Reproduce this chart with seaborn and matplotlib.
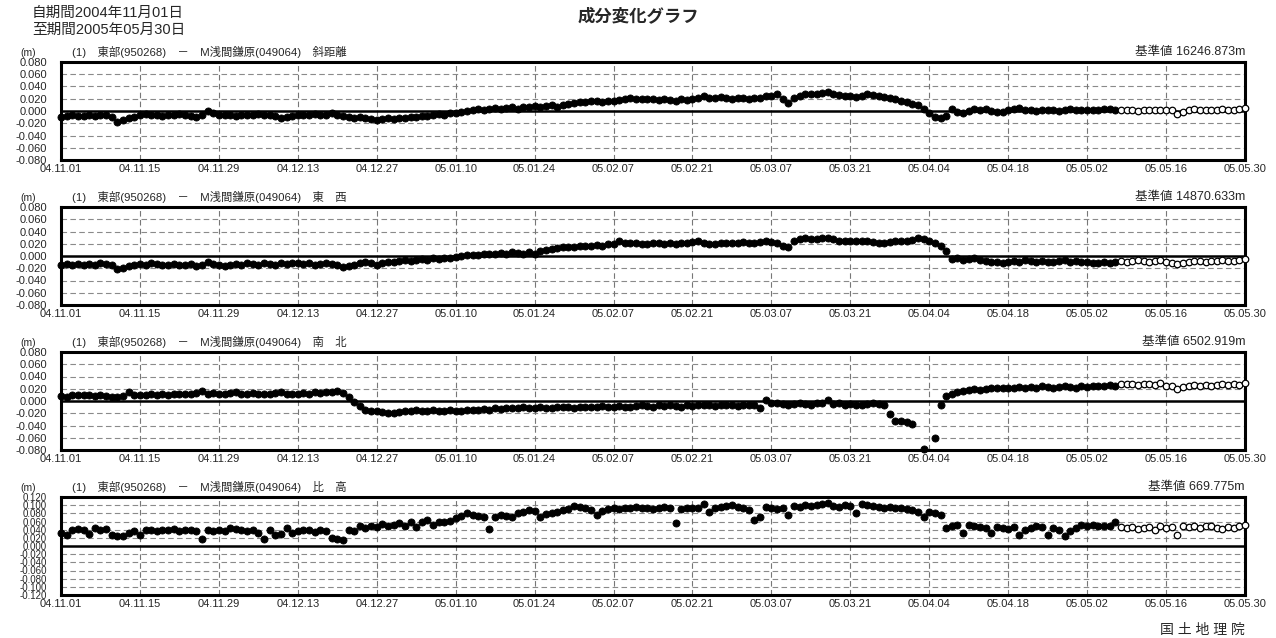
import numpy as np
import pandas as pd
import matplotlib
matplotlib.use('Agg')
import matplotlib.pyplot as plt
import seaborn as sns

sns.set_style('white')
plt.rcParams['font.family'] = ['Liberation Sans', 'Noto Sans CJK JP', 'DejaVu Sans']
plt.rcParams['axes.unicode_minus'] = False

# 期間
start_day = '2004-11-01'
end_day = '2005-05-30'
open_from = '2005-05-08'   # 以降は白丸(速報解)

# 各成分 (mm)
slope_mm = [
    -10, -8, -6, -8, -8, -7, -8, -6, -7, -9, -18, -15, -12, -10,
    -7, -5, -6, -7, -8, -6, -7, -5, -6, -8, -9, -6, 0, -4,
    -6, -7, -7, -8, -6, -7, -6, -5, -7, -6, -8, -12, -10, -8,
    -6, -7, -6, -5, -7, -6, -4, -6, -8, -10, -11, -10, -12, -13,
    -15, -13, -12, -13, -11, -12, -10, -9, -8, -8, -7, -5, -6, -4,
    -3, -2, 0, 2, 3, 2, 4, 5, 4, 5, 6, 4, 7, 6,
    8, 6, 8, 9, 7, 10, 12, 13, 15, 14, 16, 17, 15, 16,
    17, 18, 20, 22, 20, 19, 20, 19, 18, 19, 18, 17, 19, 18,
    20, 21, 24, 22, 21, 23, 22, 20, 21, 21, 20, 21, 22, 24,
    25, 27, 19, 13, 22, 25, 27, 27, 28, 29, 31, 28, 26, 25,
    24, 23, 24, 27, 26, 25, 23, 22, 20, 16, 14, 12, 10, 4,
    -3, -9, -12, -8, 4, -2, -4, 0, 4, 2, 3, 0, -2, -1,
    1, 3, 5, 2, 1, 0, 1, 2, 1, 0, 2, 3, 1, 2,
    1, 2, 1, 3, 4, 1, 1, 2, 1, 0, 2, 1, 2, 1,
    2, 1, -5, -1, 2, 3, 2, 2, 1, 2, 3, 2, 2, 3, 5,
]
ew_mm = [
    -14, -13, -15, -13, -14, -13, -14, -12, -13, -14, -22, -19, -17, -15,
    -13, -14, -12, -13, -15, -14, -13, -15, -14, -13, -16, -14, -10, -13,
    -15, -16, -14, -13, -14, -12, -13, -14, -12, -13, -14, -12, -13, -11,
    -12, -13, -12, -14, -13, -12, -13, -14, -18, -16, -14, -11, -10, -12,
    -15, -12, -10, -9, -8, -7, -8, -6, -5, -6, -4, -5, -3, -4,
    -1, 0, 1, 2, 1, 3, 4, 3, 5, 4, 6, 5, 4, 7,
    3, 8, 10, 11, 13, 14, 15, 14, 16, 17, 16, 18, 17, 19,
    20, 24, 21, 22, 21, 20, 19, 21, 22, 20, 21, 19, 22, 21,
    23, 24, 22, 20, 19, 21, 22, 21, 22, 23, 21, 22, 23, 24,
    23, 22, 16, 15, 24, 27, 29, 28, 27, 29, 30, 27, 25, 24,
    25, 24, 25, 24, 23, 22, 21, 23, 24, 25, 24, 26, 29, 27,
    25, 22, 16, 8, -5, -4, -6, -5, -4, -7, -8, -9, -10, -11,
    -10, -8, -9, -7, -8, -9, -8, -9, -10, -8, -7, -9, -8, -9,
    -10, -11, -12, -10, -11, -9, -8, -9, -8, -7, -8, -9, -8, -7,
    -9, -12, -13, -11, -9, -8, -8, -9, -8, -8, -7, -8, -8, -7, -5,
]
ns_mm = [
    8, 6, 9, 10, 9, 10, 8, 9, 8, 7, 6, 8, 15, 10,
    9, 10, 11, 10, 11, 10, 12, 11, 12, 11, 13, 16, 12, 13,
    11, 12, 13, 14, 12, 11, 13, 12, 11, 12, 13, 14, 12, 11,
    12, 13, 12, 14, 13, 14, 15, 17, 13, 6, -2, -8, -14, -16,
    -17, -18, -19, -20, -18, -17, -16, -15, -16, -17, -15, -16, -17, -15,
    -16, -17, -15, -14, -15, -13, -14, -12, -13, -12, -11, -12, -10, -12,
    -11, -10, -12, -11, -10, -9, -10, -11, -10, -9, -10, -9, -8, -10,
    -9, -8, -9, -10, -8, -7, -8, -9, -7, -8, -7, -8, -9, -7,
    -8, -7, -6, -7, -8, -7, -6, -7, -8, -7, -6, -7, -11, 1,
    -3, -4, -5, -6, -5, -4, -5, -6, -4, -3, 1, -5, -4, -6,
    -5, -7, -6, -5, -4, -5, -6, -22, -33, -33, -34, -38, np.nan, -78,
    np.nan, -61, -7, 8, 12, 15, 17, 18, 19, 18, 20, 21, 22, 21,
    22, 21, 23, 22, 23, 22, 24, 23, 22, 23, 24, 23, 22, 24,
    23, 25, 24, 25, 26, 25, 27, 28, 27, 26, 27, 28, 26, 30,
    25, 24, 20, 23, 25, 26, 25, 26, 25, 26, 27, 26, 27, 26, 30,
]
up_mm = [
    32, 28, 38, 42, 40, 30, 44, 38, 42, 28, 24, 24, 32, 36,
    28, 40, 38, 36, 40, 38, 42, 36, 40, 38, 36, 16, 38, 36,
    38, 36, 44, 42, 38, 36, 40, 32, 16, 38, 28, 30, 44, 32,
    36, 38, 40, 34, 38, 36, 20, 16, 14, 40, 36, 48, 44, 50,
    46, 54, 50, 52, 56, 50, 60, 46, 58, 64, 52, 58, 60, 62,
    68, 74, 80, 76, 74, 72, 42, 72, 76, 74, 72, 82, 84, 88,
    86, 70, 78, 80, 84, 88, 90, 98, 96, 92, 88, 76, 86, 90,
    92, 90, 94, 92, 96, 94, 92, 90, 94, 96, 92, 56, 90, 94,
    92, 94, 104, 84, 92, 96, 98, 100, 96, 94, 88, 64, 72, 96,
    94, 90, 92, 76, 98, 96, 100, 98, 100, 102, 106, 98, 96, 100,
    98, 80, 104, 100, 98, 96, 94, 96, 92, 94, 90, 88, 84, 72,
    84, 80, 76, 44, 48, 52, 32, 52, 48, 46, 44, 32, 46, 44,
    42, 46, 28, 40, 44, 48, 46, 28, 44, 40, 24, 36, 44, 52,
    50, 52, 48, 50, 48, 58, 46, 44, 46, 42, 44, 46, 40, 48,
    44, 46, 28, 48, 46, 50, 44, 48, 50, 44, 42, 46, 44, 50, 52,
]

panel_names = ['斜距離', '東\u3000西', '南\u3000北', '比\u3000高']
base_values = ['16246.873m', '14870.633m', '6502.919m', '669.775m']
y_limits = [0.080, 0.080, 0.080, 0.120]
series = [slope_mm, ew_mm, ns_mm, up_mm]

dates = pd.date_range(start_day, end_day, freq='D')
ticks = pd.date_range(start_day, end_day, freq='14D')
tick_labels = [d.strftime('%y.%m.%d') for d in ticks]

fig = plt.figure(figsize=(12.76, 6.38), dpi=100)
fig.patch.set_facecolor('white')

left, width, height = 61 / 1276, (1245 - 61) / 1276, 98 / 638
tops = [62, 207, 352, 497]

for i in range(4):
    bottom = (638 - tops[i] - 98) / 638
    ax = fig.add_axes([left, bottom, width, height])
    df = pd.DataFrame({'date': dates, 'value': np.array(series[i], dtype=float) / 1000})
    df['open'] = df['date'] >= pd.Timestamp(open_from)
    lim = y_limits[i]

    # グリッド
    for yv in np.arange(-lim + 0.02, lim - 0.001, 0.02):
        if abs(yv) > 1e-9:
            ax.axhline(yv, color='#8a8a8a', lw=0.8, ls=(0, (5, 3)), zorder=1)
    for t in ticks[1:-1]:
        ax.axvline(t, color='#777777', lw=0.8, ls=(0, (5, 3)), zorder=1)
    ax.axhline(0, color='black', lw=1.8, zorder=2)

    sns.scatterplot(data=df[~df['open']], x='date', y='value', ax=ax, s=26,
                    color='black', edgecolor='black', linewidth=0.6, zorder=3, clip_on=False)
    sns.scatterplot(data=df[df['open']], x='date', y='value', ax=ax, s=22,
                    color='white', edgecolor='black', linewidth=0.9, zorder=3, clip_on=False)

    ax.set_xlim(dates[0], dates[-1])
    ax.set_ylim(-lim, lim)
    yt = np.round(np.arange(-lim, lim + 0.001, 0.02), 3)
    ax.set_yticks(yt)
    ax.set_yticklabels(['%.3f' % v if v < 0 else '%.3f' % abs(v) for v in yt],
                       fontsize=8 if i < 3 else 7)
    ax.set_xticks(ticks)
    ax.set_xticklabels(tick_labels, fontsize=8)
    ax.tick_params(axis='both', length=0, pad=3)
    ax.tick_params(axis='y', pad=10)
    ax.set_xlabel('')
    ax.set_ylabel('')
    for sp in ax.spines.values():
        sp.set_color('black')
        sp.set_linewidth(2.2)
        sp.set_visible(True)

    ax.text(0.009, 1.04, '(1)\u3000東部(950268)\u3000\uff0d\u3000M浅間鎌原(049064)\u3000' + panel_names[i],
            transform=ax.transAxes, fontsize=8.2, ha='left', va='bottom')
    ax.text(1.0, 1.04, '基準値 ' + base_values[i], transform=ax.transAxes,
            fontsize=9, ha='right', va='bottom')
    fig.text(20 / 1276, 1 - (tops[i] - 9) / 638, '(m)', fontsize=7.5, ha='left', va='center')

fig.text(32 / 1276, 1 - 13 / 638, '自期間2004年11月01日', fontsize=10.5, ha='left', va='center')
fig.text(32 / 1276, 1 - 30 / 638, '至期間2005年05月30日', fontsize=10.5, ha='left', va='center')
fig.text(0.5, 1 - 17 / 638, '成分変化グラフ', fontsize=12.5, fontweight='bold', ha='center', va='center')
fig.text(1245 / 1276, 1 - 630 / 638, '国 土 地 理 院', fontsize=10, ha='right', va='center')

plt.savefig('out.png', dpi=100, facecolor='white')
